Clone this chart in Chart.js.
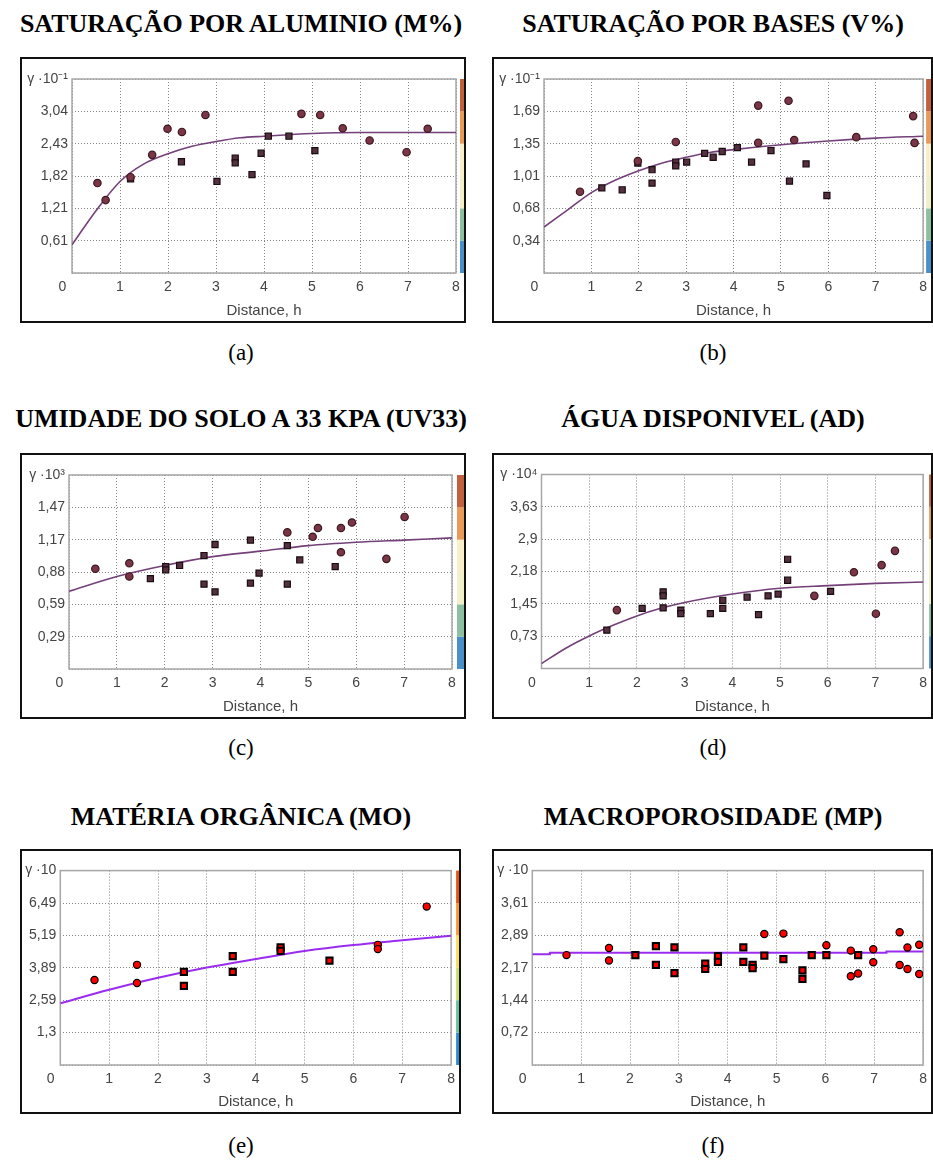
<!DOCTYPE html>
<html>
<head>
<meta charset="utf-8">
<script src="https://cdn.jsdelivr.net/npm/chart.js@4.4.0/dist/chart.umd.min.js"></script>
<style>
  html, body { margin: 0; padding: 0; background: #fff; }
  body { width: 933px; height: 1163px; position: relative; overflow: hidden; }
  .title { position: absolute; width: 600px; text-align: center; white-space: nowrap;
           font: bold 26px 'Liberation Serif', 'Times New Roman', serif; line-height: 26px; color: #000; }
  .cap { position: absolute; width: 200px; text-align: center;
         font: 23px 'Liberation Serif', 'Times New Roman', serif; line-height: 23px; color: #000; }
  canvas { position: absolute; }
</style>
</head>
<body>
<div class="title" style="left:-59px;top:11px">SATURAÇÃO POR ALUMINIO (M%)</div>
<div class="title" style="left:413px;top:11px">SATURAÇÃO POR BASES (V%)</div>
<div class="title" style="left:-59px;top:406px">UMIDADE DO SOLO A 33 KPA (UV33)</div>
<div class="title" style="left:413px;top:406px">ÁGUA DISPONIVEL (AD)</div>
<div class="title" style="left:-59px;top:804px">MATÉRIA ORGÂNICA (MO)</div>
<div class="title" style="left:413px;top:804px">MACROPOROSIDADE (MP)</div>

<canvas id="chartA" width="446" height="266" style="left:20px;top:57px"></canvas>
<canvas id="chartB" width="441" height="266" style="left:492px;top:57px"></canvas>
<canvas id="chartC" width="446" height="266" style="left:20px;top:453px"></canvas>
<canvas id="chartD" width="441" height="266" style="left:492px;top:453px"></canvas>
<canvas id="chartE" width="441" height="265" style="left:20px;top:849px"></canvas>
<canvas id="chartF" width="441" height="265" style="left:492px;top:849px"></canvas>

<div class="cap" style="left:141px;top:341px">(a)</div>
<div class="cap" style="left:613px;top:341px">(b)</div>
<div class="cap" style="left:141px;top:736px">(c)</div>
<div class="cap" style="left:613px;top:736px">(d)</div>
<div class="cap" style="left:141px;top:1134px">(e)</div>
<div class="cap" style="left:613px;top:1134px">(f)</div>

<script>
// x axis (lag distance) labels, shared by all panels
const xTicks = ['0', '1', '2', '3', '4', '5', '6', '7', '8'];

// (a) saturação por alumínio
const aYMax = 3.645;
const aYLabels = ['', '0,61', '1,21', '1,82', '2,43', '3,04', 'γ ·10⁻¹'];
const aCircH = [0.53, 0.70, 1.22, 1.67, 1.99, 2.29, 2.78, 4.78, 5.17, 5.64, 6.20, 6.97, 7.41];
const aCircV = [1.69, 1.37, 1.80, 2.22, 2.71, 2.65, 2.97, 2.99, 2.97, 2.72, 2.49, 2.27, 2.71];
const aSqH = [1.22, 2.28, 3.02, 3.40, 3.40, 3.75, 3.94, 4.09, 4.52, 5.06];
const aSqV = [1.77, 2.09, 1.72, 2.16, 2.07, 1.85, 2.25, 2.57, 2.57, 2.30];
const aCurveH = [0, 0.5, 1, 1.5, 2, 2.5, 3, 3.5, 4, 5, 6, 7, 8];
const aCurveV = [0.53, 1.17, 1.72, 2.05, 2.24, 2.38, 2.47, 2.54, 2.57, 2.62, 2.64, 2.64, 2.64];

// (b) saturação por bases
const bYMax = 2.028;
const bYLabels = ['', '0,34', '0,68', '1,01', '1,35', '1,69', 'γ ·10⁻¹'];
const bCircH = [0.76, 1.98, 2.78, 4.52, 4.52, 5.16, 5.28, 6.59, 7.79, 7.82];
const bCircV = [0.85, 1.17, 1.37, 1.75, 1.36, 1.80, 1.39, 1.42, 1.64, 1.36];
const bSqH = [1.22, 1.65, 1.98, 2.28, 2.28, 2.78, 2.78, 3.01, 3.39, 3.57, 3.76, 4.08, 4.38, 4.79, 5.18, 5.53, 5.97];
const bSqV = [0.89, 0.87, 1.15, 1.08, 0.94, 1.16, 1.12, 1.16, 1.25, 1.21, 1.27, 1.31, 1.16, 1.28, 0.96, 1.14, 0.81];
const bCurveH = [0, 0.5, 1, 1.5, 2, 2.5, 3, 3.5, 4, 5, 6, 7, 8];
const bCurveV = [0.48, 0.66, 0.84, 0.97, 1.07, 1.15, 1.21, 1.26, 1.29, 1.34, 1.38, 1.41, 1.43];

// (c) umidade do solo a 33 kPa
const cYMax = 1.761;
const cYLabels = ['', '0,29', '0,59', '0,88', '1,17', '1,47', 'γ ·10³'];
const cCircH = [0.55, 1.26, 1.26, 4.56, 5.09, 5.20, 5.68, 5.68, 5.91, 6.63, 7.01];
const cCircV = [0.91, 0.96, 0.84, 1.24, 1.20, 1.28, 1.28, 1.06, 1.33, 1.00, 1.38];
const cSqH = [1.70, 2.02, 2.02, 2.31, 2.82, 2.82, 3.05, 3.05, 3.79, 3.79, 3.97, 4.56, 4.56, 4.82, 5.56];
const cSqV = [0.82, 0.93, 0.90, 0.94, 1.03, 0.77, 1.13, 0.70, 1.17, 0.78, 0.87, 1.12, 0.77, 0.99, 0.93];
const cCurveH = [0, 1, 2, 3, 4, 5, 6, 7, 8];
const cCurveV = [0.705, 0.84, 0.94, 1.02, 1.07, 1.12, 1.15, 1.17, 1.19];

// (d) água disponível
const dYMax = 4.353;
const dYLabels = ['', '0,73', '1,45', '2,18', '2,9', '3,63', 'γ ·10⁴'];
const dCircH = [1.58, 5.72, 6.55, 7.01, 7.13, 7.41];
const dCircV = [1.31, 1.63, 2.16, 1.23, 2.32, 2.64];
const dSqH = [1.37, 2.11, 2.55, 2.55, 2.55, 2.92, 2.92, 3.54, 3.80, 3.80, 4.31, 4.55, 4.75, 4.96, 5.16, 5.16, 6.06];
const dSqV = [0.86, 1.35, 1.72, 1.63, 1.36, 1.31, 1.23, 1.23, 1.53, 1.35, 1.60, 1.21, 1.63, 1.67, 2.45, 1.98, 1.73];
const dCurveH = [0, 0.5, 1, 1.5, 2, 2.5, 3, 4, 5, 6, 7, 8];
const dCurveV = [0.11, 0.45, 0.73, 0.97, 1.18, 1.35, 1.48, 1.67, 1.80, 1.86, 1.91, 1.94];

// (e) matéria orgânica
const eYMax = 7.782;
const eYLabels = ['', '1,3', '2,59', '3,89', '5,19', '6,49', 'γ ·10'];
const eCircH = [0.70, 1.57, 1.57, 6.50, 6.50, 7.50];
const eCircV = [3.40, 4.01, 3.28, 4.81, 4.64, 6.34];
const eSqH = [2.53, 2.53, 3.53, 3.53, 4.51, 4.51, 5.51];
const eSqV = [3.73, 3.17, 4.36, 3.73, 4.71, 4.57, 4.18];
const eCurveH = [0, 1, 2, 3, 4, 5, 6, 7, 8];
const eCurveV = [2.47, 3.01, 3.49, 3.90, 4.24, 4.56, 4.80, 4.99, 5.17];

// (f) macroporosidade
const fYMax = 4.334;
const fYLabels = ['', '0,72', '1,44', '2,17', '2,89', '3,61', 'γ ·10'];
const fCircH = [0.70, 1.57, 1.57, 4.75, 5.14, 6.02, 6.52, 6.52, 6.67, 6.98, 6.98, 7.52, 7.52, 7.68, 7.68, 7.92, 7.92];
const fCircV = [2.45, 2.61, 2.33, 2.92, 2.93, 2.67, 2.55, 1.98, 2.04, 2.58, 2.29, 2.96, 2.23, 2.62, 2.14, 2.68, 2.03];
const fSqH = [2.11, 2.53, 2.53, 2.91, 2.91, 3.54, 3.54, 3.80, 3.80, 4.32, 4.32, 4.51, 4.51, 4.75, 5.14, 5.53, 5.53, 5.72, 6.02, 6.67];
const fSqV = [2.45, 2.65, 2.23, 2.62, 2.05, 2.26, 2.14, 2.43, 2.30, 2.62, 2.30, 2.23, 2.16, 2.44, 2.36, 2.11, 1.92, 2.45, 2.45, 2.45];
const fCurveH = [0, 0.36, 7.25, 8];
const fCurveV = [2.47, 2.50, 2.53, 2.53];

Chart.defaults.font.family = "'Liberation Sans', Arial, sans-serif";
Chart.defaults.font.size = 14;
Chart.defaults.color = '#444444';

// two looks: the faded maroon plots (a-d) and the bright red ones (e-f)
const oldLook = {
    circFill: '#7a3646', circLine: '#3c1820', circR: 3.7,
    sqFill: '#553040', sqLine: '#1a0c10', sqR: 4.3, sqW: 1.2,
    curve: '#74407a', curveW: 1.6,
    bar: ['#4a90c8', '#8cc0a0', '#f2f0c8', '#f8eec8', '#e89a58', '#c0603c']
};
const newLook = {
    circFill: '#ff0000', circLine: '#000000', circR: 3.6,
    sqFill: '#ff0000', sqLine: '#000000', sqR: 4.4, sqW: 2,
    curve: '#9a2cf0', curveW: 2,
    bar: ['#2d8fd0', '#6cbf9e', '#c8df6c', '#f8dc5c', '#f59a34', '#e9560f']
};

// plot-area border, colour strip and outer frame
const decor = {
    id: 'decor',
    beforeDatasetsDraw(chart) {
        const { ctx, chartArea: a } = chart;
        ctx.save();
        ctx.strokeStyle = '#a6a6a6';
        ctx.lineWidth = 1.5;
        ctx.strokeRect(a.left, a.top, a.width, a.height);
        ctx.restore();
    },
    afterDraw(chart, args, o) {
        const { ctx, chartArea: a } = chart;
        const y = chart.scales.y;
        ctx.save();
        for (let i = 0; i < o.bar.length; i++) {
            const y1 = y.getPixelForValue(y.ticks[i].value);
            const y2 = y.getPixelForValue(y.ticks[i + 1].value);
            ctx.fillStyle = o.bar[i];
            ctx.fillRect(a.right + o.gap, y2, 8, y1 - y2);
        }
        ctx.strokeStyle = '#111';
        ctx.lineWidth = 2;
        ctx.strokeRect(1, 1, chart.width - 2, chart.height - 2);
        ctx.restore();
    }
};

function pts(h, v) {
    return h.map((x, i) => ({ x: x, y: v[i] }));
}

function makePanel(id, area, gap, yMax, yLabels, circH, circV, sqH, sqV, curveH, curveV, look, stepped) {
    const cv = document.getElementById(id);
    const W = cv.width, H = cv.height;
    const gridOpts = { color: '#858585', lineWidth: 1, drawTicks: false };
    const borderOpts = { display: false, dash: [1, 2] };

    new Chart(cv, {
        type: 'scatter',
        data: {
            datasets: [
                {
                    data: pts(circH, circV),
                    pointStyle: 'circle',
                    pointRadius: look.circR,
                    backgroundColor: look.circFill,
                    borderColor: look.circLine,
                    borderWidth: 1.2
                },
                {
                    data: pts(sqH, sqV),
                    pointStyle: 'rect',
                    pointRadius: look.sqR,
                    backgroundColor: look.sqFill,
                    borderColor: look.sqLine,
                    borderWidth: look.sqW
                },
                {
                    type: 'line',
                    data: pts(curveH, curveV),
                    borderColor: look.curve,
                    borderWidth: look.curveW,
                    pointRadius: 0,
                    fill: false,
                    cubicInterpolationMode: 'monotone',
                    stepped: stepped ? 'before' : false
                }
            ]
        },
        options: {
            responsive: false,
            animation: false,
            events: [],
            layout: { padding: { left: 0, top: area.t, right: W - area.r, bottom: 0 } },
            plugins: {
                legend: { display: false },
                tooltip: { enabled: false },
                decor: { bar: look.bar, gap: gap }
            },
            scales: {
                x: {
                    type: 'linear',
                    min: 0,
                    max: 8,
                    afterFit(s) { s.height = H - area.b; },
                    ticks: {
                        stepSize: 1,
                        padding: 6,
                        maxRotation: 0,
                        autoSkip: false,
                        // the corner "0" sits a little left of the origin
                        callback: (v, i) => i === 0 ? xTicks[0] + '\u00a0'.repeat(5) : xTicks[i]
                    },
                    grid: gridOpts,
                    border: borderOpts,
                    title: {
                        display: true,
                        text: 'Distance, h',
                        font: { size: 15 },
                        padding: { top: 0, bottom: 3 }
                    }
                },
                y: {
                    type: 'linear',
                    min: 0,
                    max: yMax,
                    afterFit(s) { s.width = area.l; },
                    afterBuildTicks(s) {
                        s.ticks = yLabels.map((_, i) => ({ value: i * yMax / 6 }));
                    },
                    ticks: {
                        padding: 4,
                        callback: (v, i) => yLabels[i]
                    },
                    grid: gridOpts,
                    border: borderOpts
                }
            }
        },
        plugins: [decor]
    });
}

makePanel('chartA', { l: 52, t: 22, r: 436, b: 216 }, 4, aYMax, aYLabels,
    aCircH, aCircV, aSqH, aSqV, aCurveH, aCurveV, oldLook, false);
makePanel('chartB', { l: 52, t: 22, r: 435, b: 216 }, 3, bYMax, bYLabels,
    bCircH, bCircV, bSqH, bSqV, bCurveH, bCurveV, oldLook, false);
makePanel('chartC', { l: 49, t: 22, r: 432, b: 216 }, 5, cYMax, cYLabels,
    cCircH, cCircV, cSqH, cSqV, cCurveH, cCurveV, oldLook, false);
makePanel('chartD', { l: 49.5, t: 21.5, r: 431.5, b: 215.5 }, 6, dYMax, dYLabels,
    dCircH, dCircV, dSqH, dSqV, dCurveH, dCurveV, oldLook, false);
makePanel('chartE', { l: 40.3, t: 21.6, r: 434, b: 216 }, 5, eYMax, eYLabels,
    eCircH, eCircV, eSqH, eSqV, eCurveH, eCurveV, newLook, false);
makePanel('chartF', { l: 40.3, t: 21.6, r: 433.7, b: 216 }, 8, fYMax, fYLabels,
    fCircH, fCircV, fSqH, fSqV, fCurveH, fCurveV, newLook, true);
</script>
</body>
</html>
